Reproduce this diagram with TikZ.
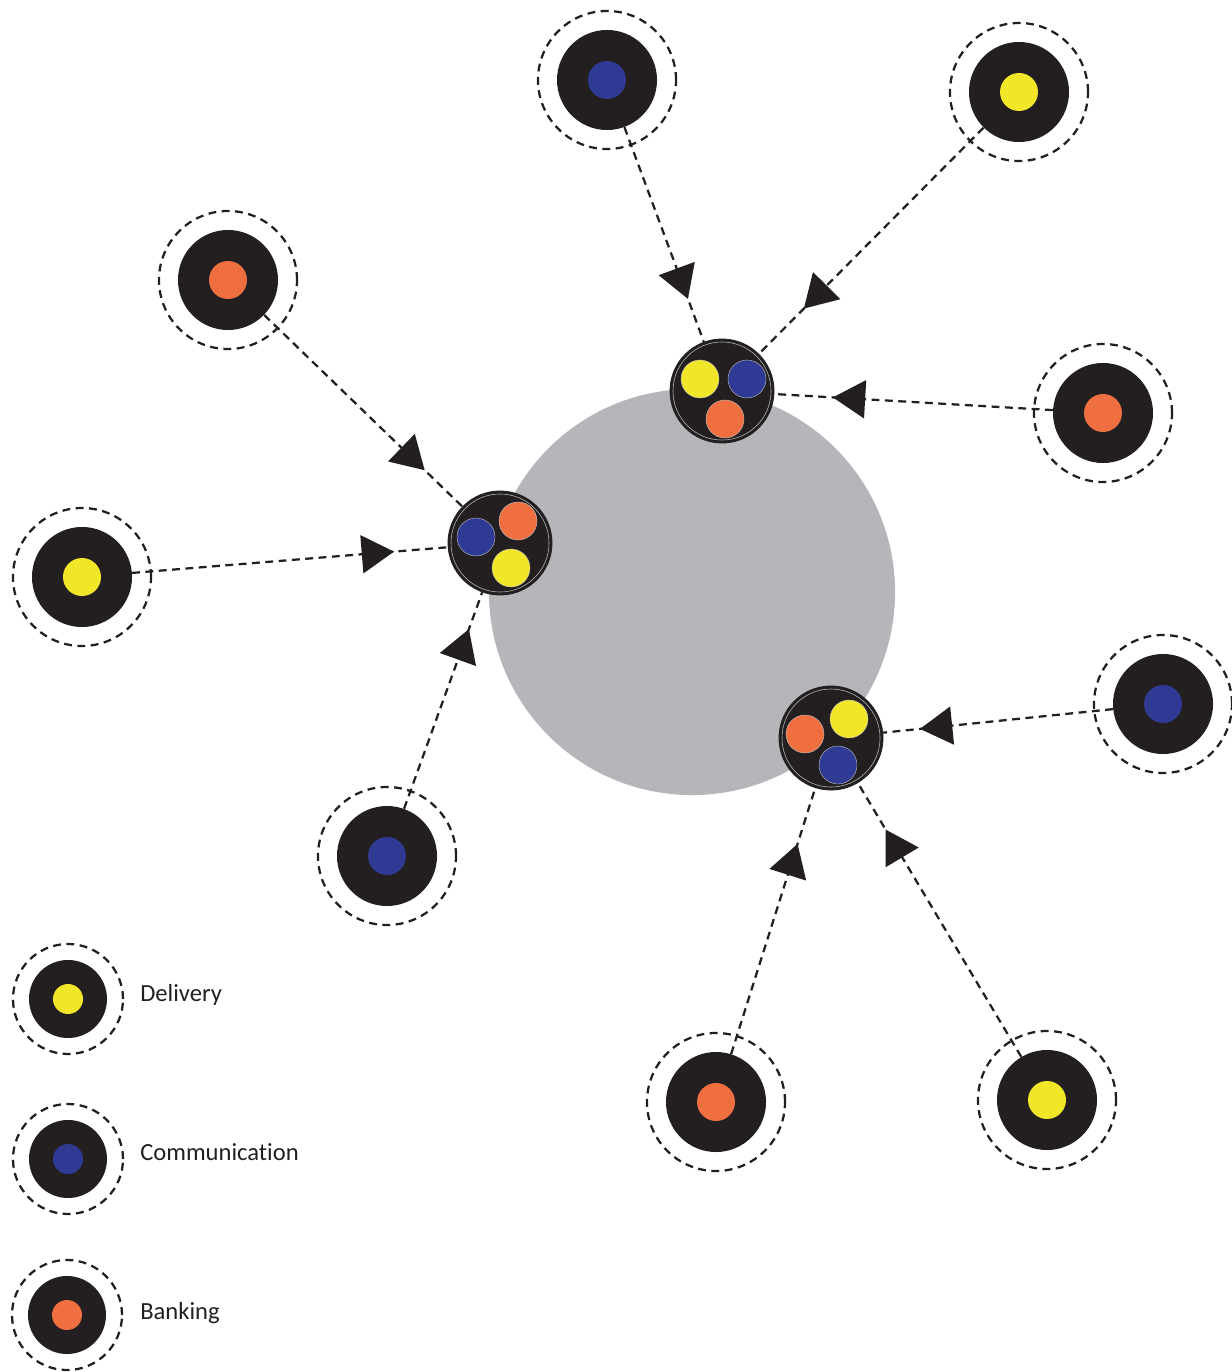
\documentclass[tikz,border=0pt]{standalone}
\usepackage{fontspec}
\setmainfont{Carlito}[Ligatures=CommonOff]
\usetikzlibrary{arrows.meta,decorations.markings}

\definecolor{disk}{HTML}{231F20}
\definecolor{core}{HTML}{B5B6B9}
\definecolor{deliv}{HTML}{F2E629}
\definecolor{comm}{HTML}{2E3A93}
\definecolor{bank}{HTML}{EF6F40}

\tikzset{
  dashline/.style={line width=1.6pt, dash pattern=on 5.6pt off 3.9pt, draw=disk},
  satdisk/.style={circle, fill=disk, inner sep=0pt, minimum size=2.5cm},
  satring/.style={circle, dashline, inner sep=0pt, minimum size=3.45cm},
  satdot/.style={circle, fill=#1, inner sep=0pt, minimum size=0.95cm},
  hubdisk/.style={circle, fill=disk, draw=disk, line width=0.6pt, inner sep=0pt, minimum size=2.6cm},
  hubring/.style={circle, draw=gray!55, line width=0.4pt, inner sep=0pt, minimum size=2.45cm},
  hubdot/.style={circle, fill=#1, draw=gray!50, line width=0.3pt, inner sep=0pt, minimum size=0.95cm},
  legdisk/.style={circle, fill=disk, inner sep=0pt, minimum size=1.95cm},
  legring/.style={circle, dashline, inner sep=0pt, minimum size=2.75cm},
  legdot/.style={circle, fill=#1, inner sep=0pt, minimum size=0.75cm},
  legtext/.style={anchor=base west, inner sep=0pt, text=disk, font=\fontsize{17.5pt}{20pt}\selectfont},
  link/.style={dashline,
    decoration={markings, mark=at position #1 with {\arrow[fill=disk]{Triangle[length=23pt,width=27pt]}}},
    postaction=decorate},
  link/.default=0.8
}

% a service point: dashed ring, black disk and coloured centre
\newcommand\satpoint[3]{%
  \node[satring] (#1r) at (#2) {};
  \node[satdisk] (#1) at (#2) {};
  \node[satdot=#3] (#1c) at (#2) {};
}
\newcommand\legpoint[3]{%
  \node[legring] (#1r) at (#2) {};
  \node[legdisk] (#1) at (#2) {};
  \node[legdot=#3] (#1c) at (#2) {};
}

\begin{document}
\begin{tikzpicture}[x=0.025cm, y=-0.025cm]
\useasboundingbox (0,0) rectangle (1231,1372);

% central area
\node[circle, fill=core, inner sep=0pt, minimum size=10.15cm] (core) at (692,592) {};

% hubs
\node[hubdisk] (hA) at (722,391) {};
\node[hubring] (hAr) at (722,391) {};
\node[hubdot=deliv] (hAy) at (700,379) {};
\node[hubdot=comm]  (hAb) at (747,379) {};
\node[hubdot=bank]  (hAo) at (725,419) {};

\node[hubdisk] (hB) at (500,543) {};
\node[hubring] (hBr) at (500,543) {};
\node[hubdot=comm]  (hBb) at (476,537) {};
\node[hubdot=bank]  (hBo) at (518,521) {};
\node[hubdot=deliv] (hBy) at (511,568) {};

\node[hubdisk] (hC) at (831,738) {};
\node[hubring] (hCr) at (831,738) {};
\node[hubdot=bank]  (hCo) at (805,734) {};
\node[hubdot=deliv] (hCy) at (849,719) {};
\node[hubdot=comm]  (hCb) at (838,765) {};

% service points
\satpoint{s1}{607,80}{comm}
\satpoint{s2}{1019,92}{deliv}
\satpoint{s3}{228,280}{bank}
\satpoint{s4}{1103,413}{bank}
\satpoint{s5}{82,577}{deliv}
\satpoint{s6}{387,856}{comm}
\satpoint{s7}{1163,704}{comm}
\satpoint{s8}{716,1102}{bank}
\satpoint{s9}{1047,1100}{deliv}

% links towards the hubs
\draw[link=0.8]  (s1) -- (hA);
\draw[link=0.8]  (s2) -- (hA);
\draw[link=0.79] (s4) -- (hA);
\draw[link=0.81] (s3) -- (hB);
\draw[link=0.83] (s5) -- (hB);
\draw[link=0.83] (s6) -- (hB);
\draw[link=0.84] (s7) -- (hC);
\draw[link=0.79] (s8) -- (hC);
\draw[link=0.83] (s9) -- (hC);

% legend
\legpoint{l1}{68,999}{deliv}
\legpoint{l2}{68,1159}{comm}
\legpoint{l3}{67,1315}{bank}
\node[legtext] (t1) at (140,1001) {Delivery};
\node[legtext] (t2) at (140,1160) {Communication};
\node[legtext] (t3) at (140,1319) {Banking};
\end{tikzpicture}
\end{document}
